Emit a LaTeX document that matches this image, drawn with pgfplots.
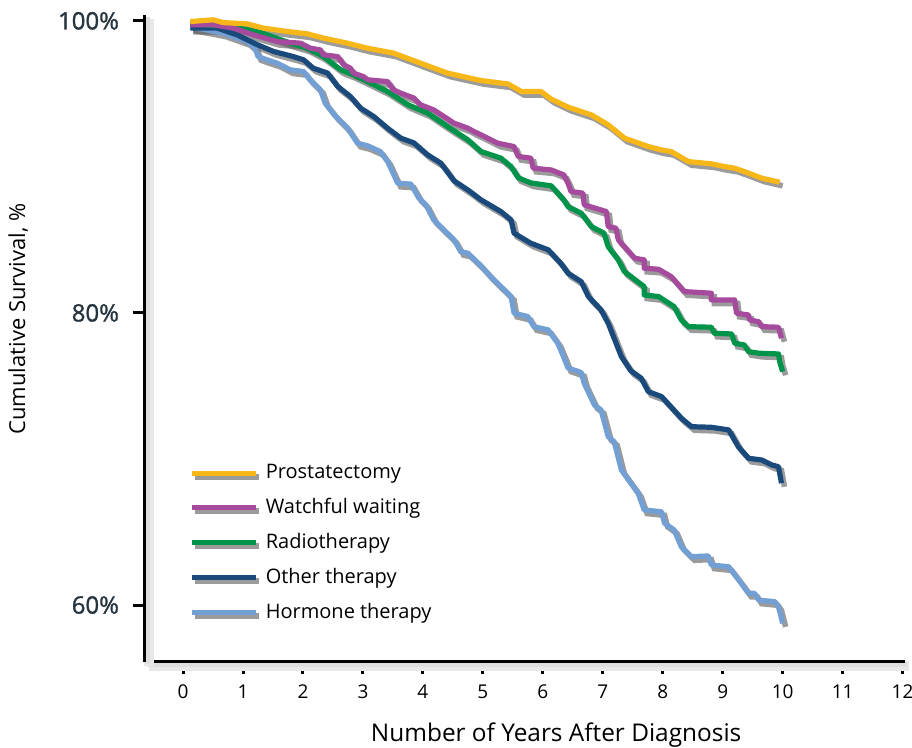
\documentclass[border=0pt]{standalone}
\usepackage{pgfplots}
\usepackage{pgfplotstable}
\usepackage{fontspec}
\setmainfont{Open Sans}
\newfontfamily\tickfont[FakeBold=1.2]{Open Sans}
\pgfplotsset{compat=1.18}

\definecolor{cprost}{HTML}{F8B718}
\definecolor{cwatch}{HTML}{A54A9C}
\definecolor{cradio}{HTML}{00934A}
\definecolor{cother}{HTML}{1A4A7C}
\definecolor{chorm}{HTML}{72A0D4}
\definecolor{tickcol}{HTML}{25343F}

% years after diagnosis, cumulative survival (%)
\pgfplotstableread{
t S
0.12 99.95
0.50 100.07
0.67 99.88
1.07 99.79
1.34 99.50
1.74 99.27
2.07 99.11
2.34 98.82
2.74 98.47
3.07 98.13
3.51 97.79
3.96 97.10
4.41 96.42
4.97 95.91
5.42 95.68
5.64 95.16
5.97 95.16
6.14 94.64
6.42 94.09
6.81 93.56
7.09 92.88
7.36 91.97
7.76 91.39
7.98 91.16
8.14 91.05
8.43 90.36
8.81 90.21
9.03 90.02
9.20 89.91
9.36 89.68
9.65 89.23
9.95 88.95
}\prost

\pgfplotstableread{
t S
0.12 99.73
0.50 99.73
0.84 99.50
1.17 99.04
1.57 98.58
1.96 98.47
2.12 98.13
2.29 98.01
2.34 97.67
2.58 97.55
2.68 96.99
2.79 96.76
2.84 96.42
3.01 96.18
3.08 95.96
3.41 95.84
3.51 95.27
3.63 95.05
3.85 94.71
3.96 94.25
4.18 93.90
4.35 93.45
4.52 92.99
4.75 92.65
4.85 92.42
4.97 92.19
5.25 91.62
5.52 91.39
5.59 90.71
5.80 90.60
5.84 89.91
6.14 89.79
6.35 89.45
6.42 88.88
6.47 88.31
6.67 88.20
6.69 87.40
7.06 86.94
7.09 85.91
7.22 85.80
7.26 85.00
7.53 83.75
7.69 83.63
7.69 83.06
7.93 82.99
8.14 82.49
8.36 81.46
8.81 81.35
8.81 80.89
9.20 80.89
9.23 79.98
9.43 79.86
9.45 79.52
9.60 79.40
9.65 79.06
9.93 79.02
9.98 78.27
}\watch

\pgfplotstableread{
t S
0.12 99.80
0.84 99.60
1.29 99.20
1.79 98.47
2.07 98.13
2.34 97.55
2.63 96.64
2.84 96.30
3.13 95.73
3.41 95.16
3.75 94.25
4.08 93.68
4.41 92.76
4.75 91.85
4.97 91.05
5.30 90.60
5.47 90.02
5.59 89.25
5.80 88.90
6.14 88.70
6.35 87.74
6.42 87.28
6.64 86.83
6.81 85.91
7.02 85.46
7.09 84.54
7.26 83.63
7.36 82.83
7.69 81.80
7.69 81.23
7.93 81.12
8.19 80.43
8.31 79.52
8.43 79.06
8.81 79.02
8.86 78.61
9.15 78.56
9.20 77.92
9.36 77.81
9.43 77.35
9.60 77.24
9.93 77.19
9.95 76.66
10.00 75.98
}\radio

\pgfplotstableread{
t S
0.12 99.50
0.57 99.50
0.90 99.04
1.24 98.36
1.51 97.90
1.84 97.55
2.01 97.33
2.17 96.76
2.41 96.42
2.58 95.50
2.79 94.82
2.96 94.02
3.18 93.45
3.41 92.65
3.63 91.97
3.85 91.64
4.08 90.82
4.30 90.25
4.52 89.04
4.75 88.42
4.97 87.74
5.30 86.94
5.47 86.37
5.52 85.46
5.80 84.77
6.09 84.32
6.30 83.40
6.42 82.72
6.64 82.14
6.76 81.12
6.97 80.21
7.09 79.29
7.31 77.01
7.47 76.03
7.64 75.53
7.76 74.61
7.98 74.27
8.31 72.79
8.48 72.21
8.81 72.17
9.10 71.99
9.26 70.84
9.43 70.05
9.65 69.93
9.82 69.59
9.93 69.47
9.98 68.34
}\other

\pgfplotstableread{
t S
0.12 99.59
0.67 99.16
1.07 98.58
1.20 98.13
1.25 97.55
1.40 97.33
1.57 97.10
1.79 96.64
2.01 96.53
2.12 95.96
2.29 95.27
2.37 94.36
2.54 93.49
2.74 92.67
2.91 91.62
3.08 91.44
3.29 91.05
3.41 90.38
3.58 88.88
3.80 88.82
3.93 87.88
4.05 87.40
4.18 86.37
4.52 85.00
4.63 84.20
4.75 84.09
4.97 83.22
5.13 82.49
5.47 81.12
5.52 79.98
5.75 79.75
5.85 79.06
6.09 78.84
6.25 77.92
6.34 77.05
6.42 76.23
6.64 75.92
6.69 75.18
6.86 73.70
6.97 73.36
7.09 71.53
7.19 71.18
7.31 69.25
7.59 67.65
7.69 66.51
7.98 66.39
8.03 65.60
8.19 65.14
8.31 63.99
8.48 63.31
8.76 63.36
8.81 62.74
9.10 62.62
9.31 61.49
9.43 60.80
9.53 60.80
9.60 60.34
9.87 60.23
9.93 59.88
10.00 58.75
}\horm

\pgfplotsset{
  shadow/.style={black!65, opacity=0.6, line width=2.8pt, shift={(1.5pt,-1.8pt)}, forget plot},
  curve/.style={line width=2.6pt, line join=round},
}

\begin{document}
\begin{tikzpicture}
\useasboundingbox (-72.5pt,-43pt) rectangle (383.5pt,331pt);
\begin{axis}[
  at={(0,0)}, anchor=south west,
  scale only axis, width=380pt, height=323.5pt,
  xmin=-0.635, xmax=12.04, ymin=56.1, ymax=100.4,
  axis lines=left,
  axis line style={-, line width=1.5pt, black,
    preaction={draw=black!9, line width=5pt, transform canvas={shift={(2pt,-2pt)}}},
    preaction={draw=black!13, line width=2.5pt, transform canvas={shift={(1.2pt,-1.2pt)}}}},
  tick align=outside, major tick length=6pt,
  tick style={line width=1.5pt, black},
  xtick={0,1,...,12}, ytick={60,80,100},
  yticklabels={60\%,80\%,100\%},
  /pgf/number format/assume math mode=true,
  yticklabel style={font=\fontsize{12}{14}\tickfont, text=tickcol, xshift=-3.5pt},
  xticklabel style={font=\fontsize{9.5}{11}\selectfont, yshift=-2pt},
  xlabel={Number of Years After Diagnosis},
  ylabel={Cumulative Survival, \%},
  xlabel style={font=\fontsize{12.2}{14}\selectfont, at={(axis description cs:0.541,-0.113)}, anchor=center},
  ylabel style={font=\fontsize{11}{13}\selectfont, at={(axis description cs:-0.167,0.53)}, anchor=center},
  clip=false,
  legend cell align=left,
  legend style={draw=none, fill=none, at={(axis description cs:0.05,0.318)}, anchor=north west,
    font=\fontsize{10}{12}\selectfont, row sep=4.3pt},
  legend image code/.code={
    \draw[black!65, opacity=0.6, line width=2.8pt] (1.5pt,-1.8pt) -- (33.5pt,-1.8pt);
    \draw[#1, line width=2.6pt] (0pt,0pt) -- (32pt,0pt);
  },
]
\addplot[shadow] table[x=t,y=S] {\prost};
\addplot[shadow] table[x=t,y=S] {\watch};
\addplot[shadow] table[x=t,y=S] {\radio};
\addplot[shadow] table[x=t,y=S] {\other};
\addplot[shadow] table[x=t,y=S] {\horm};
\addplot[curve, chorm, forget plot] table[x=t,y=S] {\horm};
\addplot[curve, cother, forget plot] table[x=t,y=S] {\other};
\addplot[curve, cradio, forget plot] table[x=t,y=S] {\radio};
\addplot[curve, cwatch, forget plot] table[x=t,y=S] {\watch};
\addplot[curve, cprost, forget plot] table[x=t,y=S] {\prost};
% legend entries in reference order
\addlegendimage{cprost}\addlegendentry{Prostatectomy}
\addlegendimage{cwatch}\addlegendentry{Watchful waiting}
\addlegendimage{cradio}\addlegendentry{Radiotherapy}
\addlegendimage{cother}\addlegendentry{Other therapy}
\addlegendimage{chorm}\addlegendentry{Hormone therapy}
\end{axis}
\end{tikzpicture}
\end{document}
